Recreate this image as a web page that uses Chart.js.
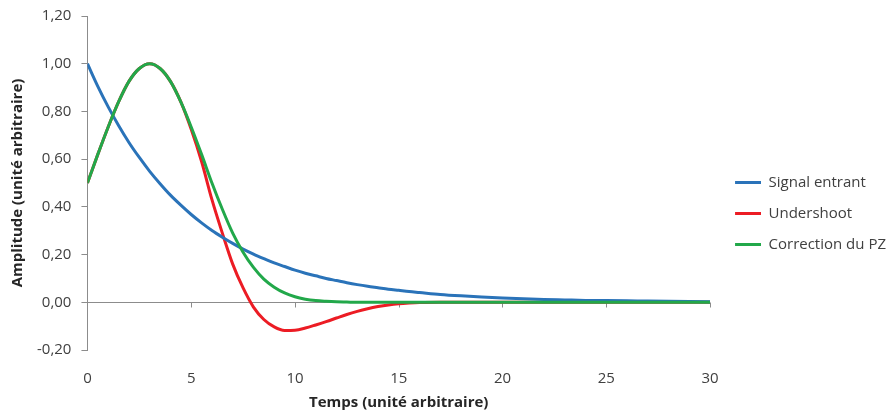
<!DOCTYPE html>
<html>
<head>
<meta charset="utf-8">
<script src="https://cdn.jsdelivr.net/npm/chart.js@4.4.1/dist/chart.umd.min.js"></script>
<style>
html,body{margin:0;padding:0;background:#fff;}
#wrap{width:893px;height:412px;position:relative;}
</style>
</head>
<body>
<div id="wrap"><canvas id="c" width="893" height="412"></canvas></div>
<script>
const times = [0,0.5,1,1.5,2,2.5,3,3.5,4,4.5,5,5.5,6,6.5,7,7.5,8,8.5,9,9.5,10,10.5,11,11.5,12,12.5,13,13.5,14,14.5,15,15.5,16,17,18,19,20,21,22,23,24,25,26,27,28,29,30];
const signalEntrant = [1.00,0.905,0.819,0.741,0.670,0.607,0.549,0.497,0.449,0.407,0.368,0.333,0.301,0.273,0.247,0.223,0.202,0.183,0.165,0.150,0.135,0.122,0.111,0.100,0.091,0.082,0.074,0.067,0.061,0.055,0.050,0.045,0.041,0.033,0.027,0.022,0.018,0.015,0.012,0.010,0.008,0.007,0.006,0.005,0.004,0.003,0.002];
const undershoot = [0.50,0.62,0.735,0.84,0.926,0.98,1.00,0.98,0.926,0.84,0.725,0.59,0.43,0.29,0.16,0.06,-0.02,-0.072,-0.103,-0.118,-0.117,-0.108,-0.095,-0.081,-0.066,-0.051,-0.038,-0.027,-0.018,-0.011,-0.006,-0.003,-0.001,0,0,0,0,0,0,0,0,0,0,0,0,0,0];
const correctionPZ = [0.50,0.62,0.735,0.84,0.926,0.98,1.00,0.98,0.926,0.84,0.735,0.62,0.50,0.39,0.29,0.21,0.146,0.097,0.063,0.039,0.023,0.013,0.007,0.004,0.002,0.001,0,0,0,0,0,0,0,0,0,0,0,0,0,0,0,0,0,0,0,0,0];
const seriesNames = ['Signal entrant','Undershoot','Correction du PZ'];
const seriesColors = ['#2a73b9','#ec1c24','#22a84a'];
const xTitle = 'Temps (unité arbitraire)';
const yTitle = 'Amplitude (unité arbitraire)';

const toPts = arr => times.map((t,i)=>({x:t,y:arr[i]}));
const FONT = "'Open Sans', sans-serif";

// legend marker: short horizontal line, drawn into a small canvas (left part transparent)
function legendLine(color){
  const c = document.createElement('canvas');
  c.width = 35; c.height = 3;
  const g = c.getContext('2d');
  g.fillStyle = color;
  g.fillRect(9, 0, 26, 3);
  return c;
}

const zeroLinePlugin = {
  id:'zeroLine',
  beforeDatasetsDraw(chart){
    const {ctx, chartArea, scales:{x,y}} = chart;
    const y0 = Math.round(y.getPixelForValue(0))+0.5;
    ctx.save();
    ctx.strokeStyle = '#8c8c8c';
    ctx.lineWidth = 1;
    ctx.beginPath();
    ctx.moveTo(chartArea.left, y0);
    ctx.lineTo(chartArea.right, y0);
    ctx.stroke();
    x.ticks.forEach(tk=>{
      const px = Math.round(x.getPixelForValue(tk.value))+0.5;
      ctx.beginPath();
      ctx.moveTo(px, y0);
      ctx.lineTo(px, y0+5);
      ctx.stroke();
    });
    ctx.restore();
  }
};

new Chart(document.getElementById('c'), {
  type:'line',
  data:{
    datasets:[
      {label:seriesNames[0], data:toPts(signalEntrant), borderColor:seriesColors[0], backgroundColor:seriesColors[0], borderWidth:3, pointRadius:0, cubicInterpolationMode:'monotone', order:1},
      {label:seriesNames[1], data:toPts(undershoot), borderColor:seriesColors[1], backgroundColor:seriesColors[1], borderWidth:3, pointRadius:0, cubicInterpolationMode:'monotone', order:1},
      {label:seriesNames[2], data:toPts(correctionPZ), borderColor:seriesColors[2], backgroundColor:seriesColors[2], borderWidth:3, pointRadius:0, cubicInterpolationMode:'monotone', order:0}
    ]
  },
  options:{
    responsive:false,
    animation:false,
    layout:{padding:{left:9,top:5,right:-3,bottom:0}},
    plugins:{
      legend:{
        position:'right',
        align:'center',
        title:{display:true, text:' ', font:{family:FONT,size:9}, padding:0},
        labels:{
          usePointStyle:true, pointStyleWidth:35, boxHeight:3,
          font:{family:FONT,size:15}, color:'#404040', padding:16,
          generateLabels(chart){
            return chart.data.datasets.map((ds,i)=>({
              text:ds.label, fillStyle:ds.borderColor, strokeStyle:ds.borderColor,
              pointStyle:legendLine(ds.borderColor),
              lineWidth:0, hidden:false, datasetIndex:i, fontColor:'#404040'
            }));
          }
        }
      },
      tooltip:{enabled:false}
    },
    scales:{
      x:{
        type:'linear', min:0, max:30,
        ticks:{stepSize:5, font:{family:FONT,size:15}, color:'#404040', padding:6},
        grid:{display:false, drawTicks:true, tickLength:14},
        border:{display:false},
        title:{display:true, text:xTitle, font:{family:FONT,size:15,weight:'bold'}, color:'#262626', padding:{top:0,bottom:0}}
      },
      y:{
        min:-0.2, max:1.2,
        afterFit(scale){ scale.paddingTop = 16; },
        ticks:{stepSize:0.2, font:{family:FONT,size:15}, color:'#404040', padding:10,
          callback:v=>(Math.round(v*100)/100).toFixed(2).replace('.',',').replace('-0,00','0,00')},
        grid:{color:'rgba(0,0,0,0)', tickColor:'#8c8c8c', tickLength:6, drawOnChartArea:false},
        border:{display:true, color:'#8c8c8c'},
        title:{display:true, text:yTitle, font:{family:FONT,size:15,weight:'bold'}, color:'#262626', padding:{top:0,bottom:0}}
      }
    }
  },
  plugins:[zeroLinePlugin]
});
</script>
</body>
</html>
